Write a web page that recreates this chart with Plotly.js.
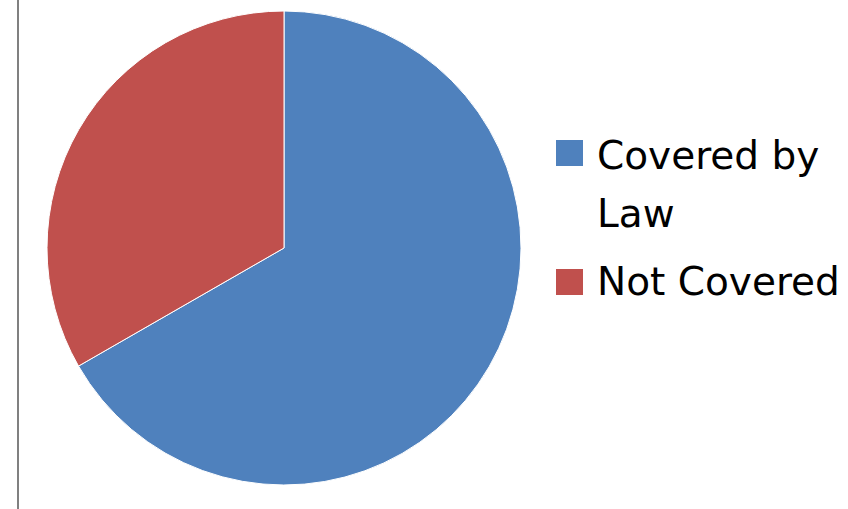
<!DOCTYPE html>
<html>
<head>
<meta charset="utf-8">
<script src="https://cdn.plot.ly/plotly-3.0.1.min.js"></script>
<style>html,body{margin:0;padding:0;background:#fff;}#chart{width:848px;height:509px;}</style>
</head>
<body>
<div id="chart"></div>
<script>
// Data
var categories = ['Covered by Law', 'Not Covered'];
var legendLines = [['Covered by', 'Law'], ['Not Covered']];
var values = [66.7, 33.3];

// Styles
var colors = ['#4F81BD', '#C0504D'];
var W = 848, H = 509;
function px(x) { return x / W; }
function py(y) { return 1 - y / H; }

var trace = {
  type: 'pie',
  labels: categories,
  values: values,
  sort: false,
  direction: 'clockwise',
  rotation: 0,
  textinfo: 'none',
  hoverinfo: 'label+percent',
  showlegend: false,
  marker: { colors: colors, line: { color: '#ffffff', width: 1 } },
  domain: { x: [px(47), px(521)], y: [py(485), py(11)] }
};

var shapes = [
  { type: 'line', xref: 'paper', yref: 'paper', x0: px(18), x1: px(18), y0: 0, y1: 1,
    line: { color: '#808080', width: 2 } }
];
var annotations = [];
var squareTops = [140, 269];
var lineCenters = [[155, 213], [281]];
for (var i = 0; i < categories.length; i++) {
  shapes.push({ type: 'rect', xref: 'paper', yref: 'paper',
    x0: px(556), x1: px(583), y0: py(squareTops[i] + 26), y1: py(squareTops[i]),
    fillcolor: colors[i], line: { width: 0 } });
  for (var j = 0; j < legendLines[i].length; j++) {
    annotations.push({ xref: 'paper', yref: 'paper', x: px(595), y: py(lineCenters[i][j]),
      xanchor: 'left', yanchor: 'middle', showarrow: false, text: legendLines[i][j],
      font: { family: 'DejaVu Sans', size: 39, color: '#000000' } });
  }
}

var layout = {
  width: W, height: H,
  margin: { l: 0, r: 0, t: 0, b: 0 },
  paper_bgcolor: '#ffffff',
  plot_bgcolor: '#ffffff',
  showlegend: false,
  shapes: shapes,
  annotations: annotations
};

Plotly.newPlot('chart', [trace], layout, { displayModeBar: false, staticPlot: true });
</script>
</body>
</html>
